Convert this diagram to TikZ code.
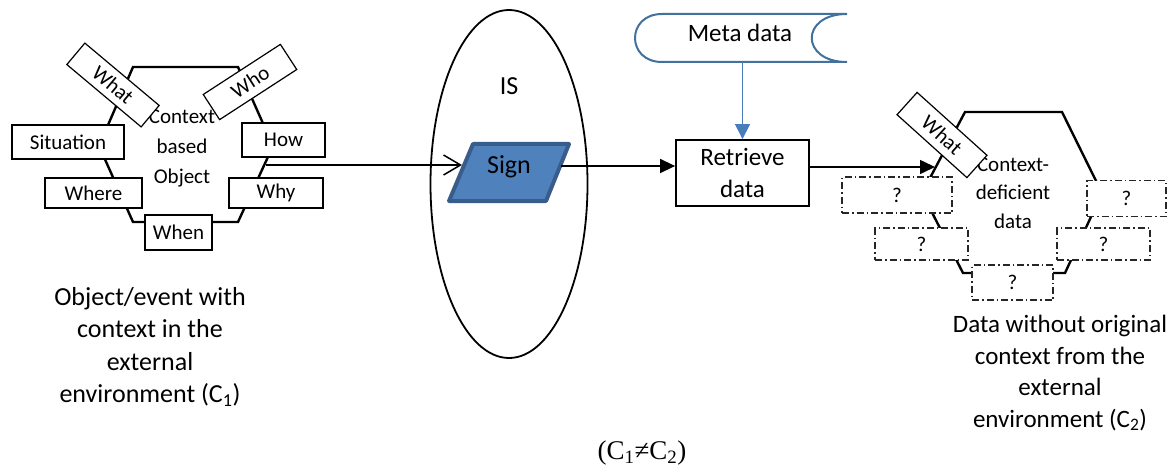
\documentclass[tikz,border=0pt]{standalone}
\usepackage{fontspec}
\setmainfont{Carlito}
\newfontfamily\serifnote{Liberation Serif}
\usetikzlibrary{arrows.meta,shapes.geometric}
\definecolor{signfill}{HTML}{4F81BD}
\definecolor{signedge}{HTML}{385D8A}
\definecolor{metaedge}{HTML}{41719C}
\definecolor{metaarrow}{HTML}{4A7EBB}
\begin{document}
\begin{tikzpicture}[x=1pt,y=-1pt,
  hexline/.style={line width=2.4pt,line join=miter},
  tagbox/.style={draw,fill=white,line width=1.2pt,inner sep=0pt,font=\fontsize{21}{25}\selectfont},
  gapbox/.style={draw=black!85,fill=white,line width=1.1pt,dash pattern=on 7pt off 3pt on 1.5pt off 3pt,inner sep=0pt,font=\fontsize{21}{25}\selectfont},
  bigtext/.style={font=\fontsize{25}{32}\selectfont,align=center,inner sep=0pt},
  hextext/.style={font=\fontsize{21}{30}\selectfont,align=center,inner sep=0pt},
  flow/.style={line width=1.5pt},
]
\useasboundingbox (0,0) rectangle (1167,468);

% ---- object with its full context ----
\draw[hexline] (133,67) -- (238,67) -- (273,146) -- (238,222) -- (133,222) -- (99,146) -- cycle;
\node[hextext] (ctx) at (182,148) {Context\\based\\Object};
\coordinate (hexR) at (266,165);

\node[tagbox,minimum width=112pt,minimum height=34pt] (sit) at (68,142) {Situation};
\node[tagbox,minimum width=83pt,minimum height=34pt] (how) at (283.5,140) {How};
\node[tagbox,minimum width=97pt,minimum height=30pt] (where) at (93.5,193) {Where};
\node[tagbox,minimum width=94pt,minimum height=30pt] (why) at (276,193) {Why};
\node[tagbox,minimum width=67pt,minimum height=35pt] (when) at (178.5,232.5) {When};
\node[tagbox,minimum width=97pt,minimum height=28pt,rotate=-40] (what1) at (113,85) {What};
\node[tagbox,minimum width=92pt,minimum height=30pt,rotate=33] (who) at (250,82) {Who};

% ---- information system ----
\node[draw,ellipse,line width=1.8pt,minimum width=157pt,minimum height=348pt,inner sep=0pt] (isell) at (509,184) {};
\node[bigtext,font=\fontsize{26}{30}\selectfont] (islbl) at (509,86) {IS};

\draw[line width=4pt,draw=signedge,fill=signfill,line join=round]
  (449,201) -- (473,144) -- (569,144) -- (546,201) -- cycle;
\node[bigtext,font=\fontsize{26}{30}\selectfont] (sign) at (509,167) {Sign};
\coordinate (sgL) at (462,165);
\coordinate (sgR) at (561,166);

\draw[flow,-{Straight Barb[length=17pt,width=20pt]}] (hexR) -- (sgL);

% ---- meta data store and retrieval ----
\draw[line width=2pt,draw=metaedge,fill=white]
  (847,14) -- (662,14) .. controls (626,14) and (626,62) .. (662,62)
  -- (847,62) .. controls (800,62) and (800,14) .. (847,14) -- cycle;
\node[bigtext] (meta) at (740,33) {Meta data};
\coordinate (metaB) at (742.5,62);

\node[draw,line width=1.8pt,minimum width=133pt,minimum height=66pt,bigtext] (retr) at (742.5,173) {Retrieve\\data};

\draw[flow,-{Triangle[length=15pt,width=14pt]}] (sgR) -- (sgR -| retr.west);
\draw[line width=1.2pt,draw=metaarrow,-{Triangle[length=15pt,width=15pt]}] (metaB) -- (metaB |- retr.north);

% ---- data stripped of its context ----
\draw[hexline] (965,112) -- (1062,112) -- (1102,193) -- (1065,273) -- (963,273) -- (922,193) -- cycle;
\node[hextext,font=\fontsize{21}{28.5}\selectfont] (ctx2) at (1013,193) {Context-\\deficient\\data};
\coordinate (hexL) at (935,167);
\draw[flow,-{Triangle[length=15pt,width=14pt]}] (hexL -| retr.east) -- (hexL);

\node[gapbox,minimum width=110pt,minimum height=36pt] (q1) at (897,195) {?};
\node[gapbox,minimum width=93pt,minimum height=32pt] (q2) at (921.5,244) {?};
\node[gapbox,minimum width=81pt,minimum height=35pt] (q3) at (1012.5,282.5) {?};
\node[gapbox,minimum width=79pt,minimum height=36pt] (q4) at (1126.5,198.5) {?};
\node[gapbox,minimum width=93pt,minimum height=32pt] (q5) at (1103.5,244) {?};
\node[tagbox,minimum width=94pt,minimum height=30pt,rotate=-42] (what2) at (942,135) {What};

% ---- captions ----
\node[bigtext,font=\fontsize{26}{32.5}\selectfont] (lbl1) at (150,347)
  {Object/event with\\context in the\\external\\environment (C\textsubscript{1})};
\node[bigtext,font=\fontsize{25}{31.5}\selectfont] (lbl2) at (1060,373)
  {Data without original\\context from the\\external\\environment (C\textsubscript{2})};
\node[inner sep=0pt,font=\serifnote\fontsize{27}{30}\selectfont] (neq) at (642,453)
  {(C\textsubscript{1}≠C\textsubscript{2})};
\end{tikzpicture}
\end{document}
